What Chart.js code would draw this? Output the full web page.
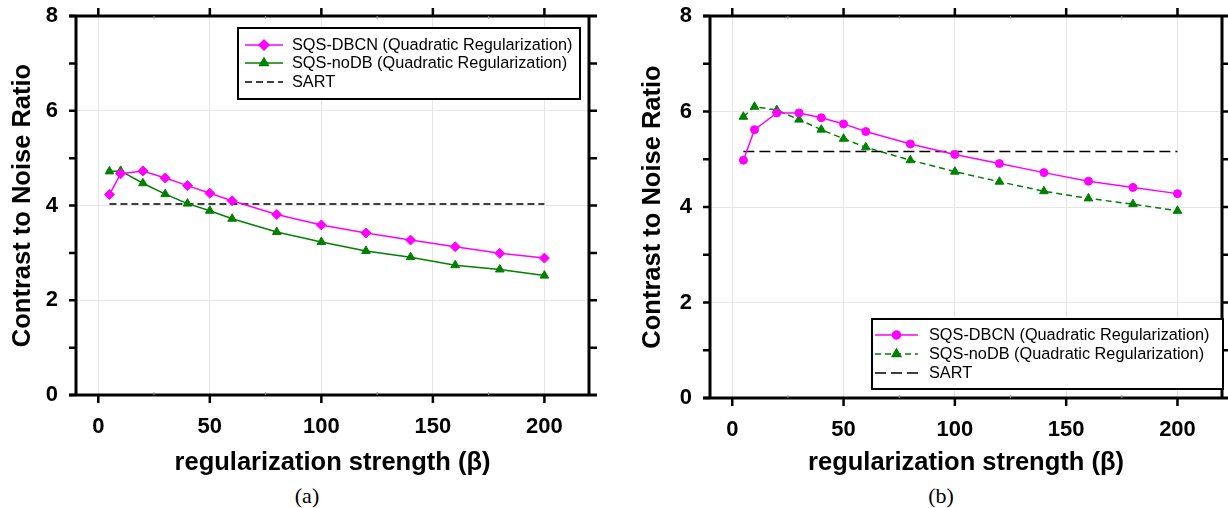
<!DOCTYPE html>
<html>
<head>
<meta charset="utf-8">
<script src="https://cdn.jsdelivr.net/npm/chart.js@4/dist/chart.umd.min.js"></script>
<style>
body{margin:0;background:#fff;width:1228px;height:508px;overflow:hidden;position:relative;}
canvas{position:absolute;top:0;}
.cap{position:absolute;top:483px;font:22px "Liberation Serif",serif;transform:translateX(-50%);z-index:2;}
</style>
</head>
<body>
<canvas id="chartA" width="610" height="480" style="left:0"></canvas>
<canvas id="chartB" width="608" height="480" style="left:620px"></canvas>
<div class="cap" style="left:307px">(a)</div>
<div class="cap" style="left:941px">(b)</div>
<script>
// regularization strength (beta)
const betas=[5,10,20,30,40,50,60,80,100,120,140,160,180,200];
// panel (a)
const dbcnA=[4.23,4.67,4.73,4.58,4.42,4.26,4.10,3.81,3.59,3.42,3.27,3.13,2.99,2.89];
const nodbA=[4.72,4.73,4.47,4.24,4.04,3.89,3.72,3.44,3.23,3.04,2.91,2.74,2.65,2.52];
const sartA=4.03;
// panel (b)
const dbcnB=[4.98,5.62,5.97,5.97,5.87,5.74,5.58,5.32,5.10,4.91,4.72,4.54,4.41,4.28];
const nodbB=[5.89,6.10,6.03,5.83,5.62,5.43,5.25,4.98,4.74,4.53,4.33,4.18,4.06,3.92];
const sartB=5.16;
const sartX=[5,200];

const xTicks=[0,50,100,150,200];
const xMinor=[25,75,125,175];
const yTicks=[0,2,4,6,8];
const yAll=[0,1,2,3,4,5,6,7,8];
const labels=['SQS-DBCN (Quadratic Regularization)','SQS-noDB (Quadratic Regularization)','SART'];

const pts=(xs,ys)=>xs.map((x,i)=>({x:x,y:ys[i]}));
const FONT='"Liberation Sans", Arial, sans-serif';

// frame with ticks on all four sides
const framePlugin={
  id:'frame',
  afterDatasetsDraw(chart){
    const c=chart.ctx, a=chart.chartArea, xs=chart.scales.x, ys=chart.scales.y;
    c.save();
    c.strokeStyle='#000';
    c.lineWidth=3;
    c.beginPath();
    c.moveTo(a.left-7,a.top); c.lineTo(a.right+8,a.top);
    c.moveTo(a.left-7,a.bottom); c.lineTo(a.right+8,a.bottom);
    c.moveTo(a.left,a.top); c.lineTo(a.left,a.bottom);
    c.moveTo(a.right,a.top); c.lineTo(a.right,a.bottom);
    c.stroke();
    c.lineWidth=2.5;
    c.beginPath();
    yAll.forEach(v=>{
      const y=ys.getPixelForValue(v);
      c.moveTo(a.left-7,y); c.lineTo(a.left,y);
      if(v>0&&v<8){c.moveTo(a.right,y); c.lineTo(a.right+8,y);}
    });
    xTicks.forEach(v=>{
      const x=xs.getPixelForValue(v);
      c.moveTo(x,a.top-8); c.lineTo(x,a.top);
      c.moveTo(x,a.bottom); c.lineTo(x,a.bottom+8);
    });
    c.stroke();
    c.strokeStyle='#999';
    c.lineWidth=1;
    c.beginPath();
    xMinor.forEach(v=>{
      const x=xs.getPixelForValue(v);
      c.moveTo(x,a.bottom-3); c.lineTo(x,a.bottom);
      c.moveTo(x,a.top); c.lineTo(x,a.top+3);
    });
    c.stroke();
    c.restore();
  }
};

// boxed legend inside the plot
const boxLegend={
  id:'boxLegend',
  afterDraw(chart,args,o){
    const c=chart.ctx;
    c.save();
    c.fillStyle='#fff';
    c.fillRect(o.left,o.top,o.right-o.left,o.bottom-o.top);
    c.strokeStyle='#000';
    c.lineWidth=2;
    c.strokeRect(o.left,o.top,o.right-o.left,o.bottom-o.top);
    chart.data.datasets.forEach((ds,i)=>{
      const y=o.rows[i];
      c.strokeStyle=ds.borderColor;
      c.lineWidth=ds.borderWidth;
      c.setLineDash(ds.borderDash||[]);
      c.beginPath(); c.moveTo(o.x0,y); c.lineTo(o.x1,y); c.stroke();
      c.setLineDash([]);
      if(ds.pointRadius>0){
        c.fillStyle=ds.backgroundColor;
        Chart.helpers.drawPoint(c,{pointStyle:ds.pointStyle,radius:ds.pointRadius,rotation:0,borderWidth:1},(o.x0+o.x1)/2,y);
        c.fill();
      }
      c.fillStyle='#000';
      c.font='16.3px '+FONT;
      c.textBaseline='middle';
      c.fillText(ds.label,o.tx,y+1);
    });
    c.restore();
  }
};

function makePanel(id,dbcn,nodb,sart,p){
  return new Chart(document.getElementById(id),{
    type:'line',
    data:{
      datasets:[
        {label:labels[0],data:pts(betas,dbcn),borderColor:'#ff00ff',backgroundColor:'#ff00ff',
         borderWidth:1.5,pointStyle:p.dbStyle,pointRadius:p.dbRadius,pointBorderWidth:1},
        {label:labels[1],data:pts(betas,nodb),borderColor:'#008000',backgroundColor:'#008000',
         borderWidth:1.5,borderDash:p.greenDash,pointStyle:'triangle',pointRadius:5,pointBorderWidth:1},
        {label:labels[2],data:pts(sartX,sartX.map(()=>sart)),borderColor:'#000',backgroundColor:'#000',
         borderWidth:1.5,borderDash:p.sartDash,pointRadius:0}
      ]
    },
    options:{
      responsive:false,
      animation:false,
      layout:{padding:{left:0,right:p.padRight,top:16,bottom:0}},
      plugins:{
        legend:{display:false},
        tooltip:{enabled:false},
        boxLegend:p.legend
      },
      scales:{
        x:{
          type:'linear',min:-10,max:220,
          afterBuildTicks:s=>{s.ticks=xTicks.map(v=>({value:v}));},
          afterFit:s=>{s.height=p.xHeight;s.paddingLeft=0;s.paddingRight=0;},
          grid:{color:'#e6e6e6',drawTicks:false},
          border:{display:false},
          ticks:{color:'#000',padding:19,font:{family:FONT,size:22,weight:'bold'}},
          title:{display:true,text:'regularization strength (β)',color:'#000',padding:{top:0,bottom:2},
                 font:{family:FONT,size:25.5,weight:'bold'}}
        },
        y:{
          min:0,max:8,
          afterBuildTicks:s=>{s.ticks=yTicks.map(v=>({value:v}));},
          afterFit:s=>{s.width=p.yWidth;s.paddingTop=0;s.paddingBottom=0;},
          grid:{color:'#e6e6e6',drawTicks:false},
          border:{display:false},
          ticks:{color:'#000',padding:18,font:{family:FONT,size:22,weight:'bold'}},
          title:{display:true,text:'Contrast to Noise Ratio',color:'#000',padding:{top:p.yTitlePad,bottom:0},
                 font:{family:FONT,size:25.5,weight:'bold'}}
        }
      }
    },
    plugins:[framePlugin,boxLegend]
  });
}

makePanel('chartA',dbcnA,nodbA,sartA,{
  dbStyle:'rectRot',dbRadius:5,greenDash:[],sartDash:[7,4],
  padRight:21,xHeight:85,yWidth:76,yTitlePad:8,
  legend:{left:238,top:28,right:580,bottom:99,rows:[45,63,82],x0:245,x1:283,tx:292}
});
makePanel('chartB',dbcnB,nodbB,sartB,{
  dbStyle:'circle',dbRadius:4,greenDash:[6,4],sartDash:[11,5],
  padRight:3,xHeight:82,yWidth:90,yTitlePad:18,
  legend:{left:252,top:319,right:603,bottom:389,rows:[335,354,373],x0:255,x1:298,tx:309}
});
</script>
</body>
</html>
